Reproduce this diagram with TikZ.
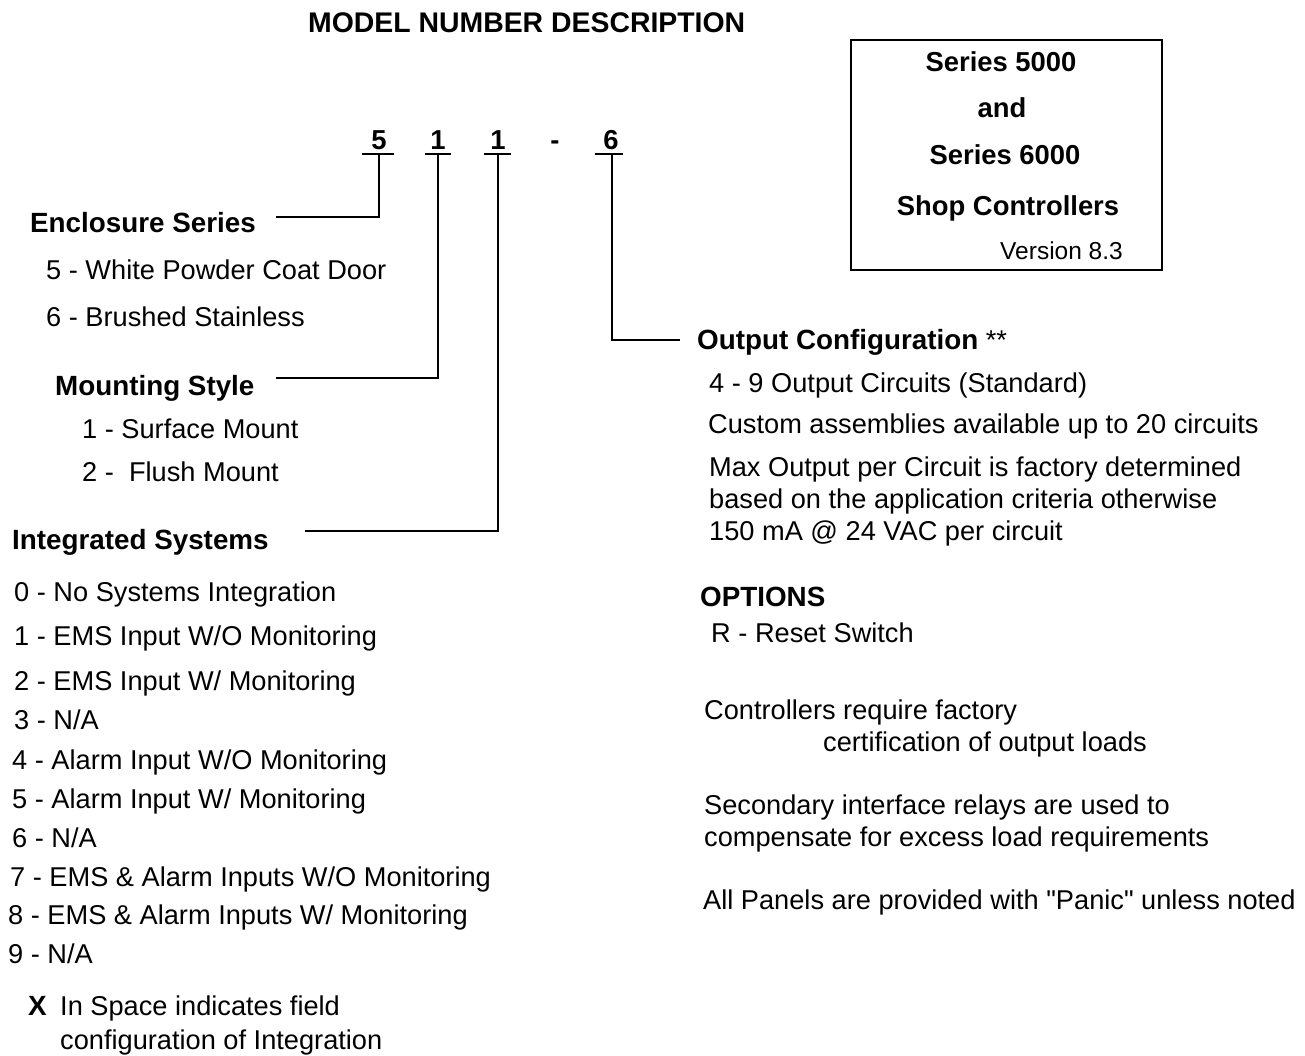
\documentclass[tikz,border=0pt]{standalone}
\usepackage{fontspec}
\setmainfont{Liberation Sans}[Ligatures=TeXOff]
\usetikzlibrary{positioning}
\tikzstyle{txt} = [anchor=west, inner sep=0pt, text height=19.6pt,
text depth=0pt, font=\fontsize{27.2}{30}\selectfont]
\tikzstyle{head} = [txt, font=\fontsize{27.8}{30}\selectfont\bfseries]
\tikzstyle{digit} = [anchor=center, inner sep=0pt, text height=19pt,
text depth=0pt, font=\fontsize{27.4}{30}\selectfont\bfseries]
\tikzstyle{boxline} = [anchor=center, inner sep=0pt, text height=19.6pt,
text depth=0pt, font=\fontsize{27.4}{30}\selectfont\bfseries]
\tikzstyle{link} = [line width=1.7pt]
\tikzstyle{frame} = [draw, line width=1.5pt, inner sep=0pt,
minimum width=311pt, minimum height=230pt]

\begin{document}
\begin{tikzpicture}[x=1pt, y=-1pt]
  \useasboundingbox (0,0) rectangle (1305,1055);
  % Title and series box
  \node (title) [head, font=\fontsize{28.4}{30}\selectfont\bfseries] at (308,22.5)
        {MODEL NUMBER DESCRIPTION};
  \node (frame) [frame] at (1006.5,155) {};
  \node (s5) [boxline] at (1001,62) {Series 5000};
  \node (and) [boxline] at (1002,108) {and};
  \node (s6) [boxline] at (1005,155) {Series 6000};
  \node (shop) [boxline] at (1008,206) {Shop Controllers};
  \node (ver) [txt, anchor=east, font=\fontsize{24.5}{28}\selectfont]
        at (1123,250) {Version 8.3};
  % Model number digits
  \node (d1) [digit] at (379,139.5) {5};
  \node (d2) [digit] at (438,139.5) {1};
  \node (d3) [digit] at (498,139.5) {1};
  \node (dash) [digit] at (555,139.5) {-};
  \node (d4) [digit] at (611,139.5) {6};
  \coordinate (b1) at (379,154);
  \coordinate (b2) at (438,154);
  \coordinate (b3) at (498,154);
  \coordinate (b4) at (612,154);
  \draw [link] ([xshift=-17pt]b1) -- ([xshift=15pt]b1);
  \draw [link] ([xshift=-13pt]b2) -- ([xshift=13pt]b2);
  \draw [link] ([xshift=-14pt]b3) -- ([xshift=13pt]b3);
  \draw [link] ([xshift=-17pt]b4) -- ([xshift=11pt]b4);
  % Enclosure series
  \node (enc) [head] at (30,223) {Enclosure Series};
  \node (enc5) [txt] at (46,270) {5 - White Powder Coat Door};
  \node (enc6) [txt] at (46,317) {6 - Brushed Stainless};
  % Mounting style
  \node (mnt) [head] at (55,386) {Mounting Style};
  \node (mnt1) [txt] at (82,429) {1 - Surface Mount};
  \node (mnt2) [txt] at (82,472) {2 -\ \ Flush Mount};
  % Integrated systems
  \node (integ) [head] at (12,540) {Integrated Systems};
  \node (i0) [txt] at (14,592) {0 - No Systems Integration};
  \node (i1) [txt] at (14,636) {1 - EMS Input W/O Monitoring};
  \node (i2) [txt] at (14,681) {2 - EMS Input W/ Monitoring};
  \node (i3) [txt] at (14,720) {3 - N/A};
  \node (i4) [txt] at (12,760) {4 - Alarm Input W/O Monitoring};
  \node (i5) [txt] at (12,799) {5 - Alarm Input W/ Monitoring};
  \node (i6) [txt] at (12,838) {6 - N/A};
  \node (i7) [txt] at (10,877) {7 - EMS \& Alarm Inputs W/O Monitoring};
  \node (i8) [txt] at (8,915) {8 - EMS \& Alarm Inputs W/ Monitoring};
  \node (i9) [txt] at (8,954) {9 - N/A};
  \node (xmark) [head] at (28,1006) {X};
  \node (xnote) [txt] at (60,1006) {In Space indicates field};
  \node (xnote2) [txt] at (60,1040) {configuration of Integration};
  % Output configuration
  \node (out) [txt] at (697,340)
        {{\fontsize{27.8}{30}\selectfont\bfseries Output Configuration} **};
  \node (o1) [txt] at (709,383) {4 - 9 Output Circuits (Standard)};
  \node (o2) [txt] at (708,424) {Custom assemblies available up to 20 circuits};
  \node (o3) [txt] at (709,467) {Max Output per Circuit is factory determined};
  \node (o4) [txt] at (709,499) {based on the application criteria otherwise};
  \node (o5) [txt] at (709,531) {150 mA @ 24 VAC per circuit};
  % Options and notes
  \node (opt) [head] at (700,597) {OPTIONS};
  \node (optr) [txt] at (711,633) {R - Reset Switch};
  \node (n1) [txt] at (704,710) {Controllers require factory};
  \node (n1b) [txt] at (823,742) {certification of output loads};
  \node (n2) [txt] at (704,805) {Secondary interface relays are used to};
  \node (n2b) [txt] at (704,837) {compensate for excess load requirements};
  \node (n3) [txt] at (703,900)
        {All Panels are provided with "Panic" unless noted};
  % Connections
  \coordinate (e1) at (276,217);
  \coordinate (e2) at (276,378);
  \coordinate (e3) at (305,531);
  \coordinate (e4) at (680,340);
  \draw [link] (b1) |- (e1);
  \draw [link] (b2) |- (e2);
  \draw [link] (b3) |- (e3);
  \draw [link] (b4) |- (e4);
\end{tikzpicture}
\end{document}
